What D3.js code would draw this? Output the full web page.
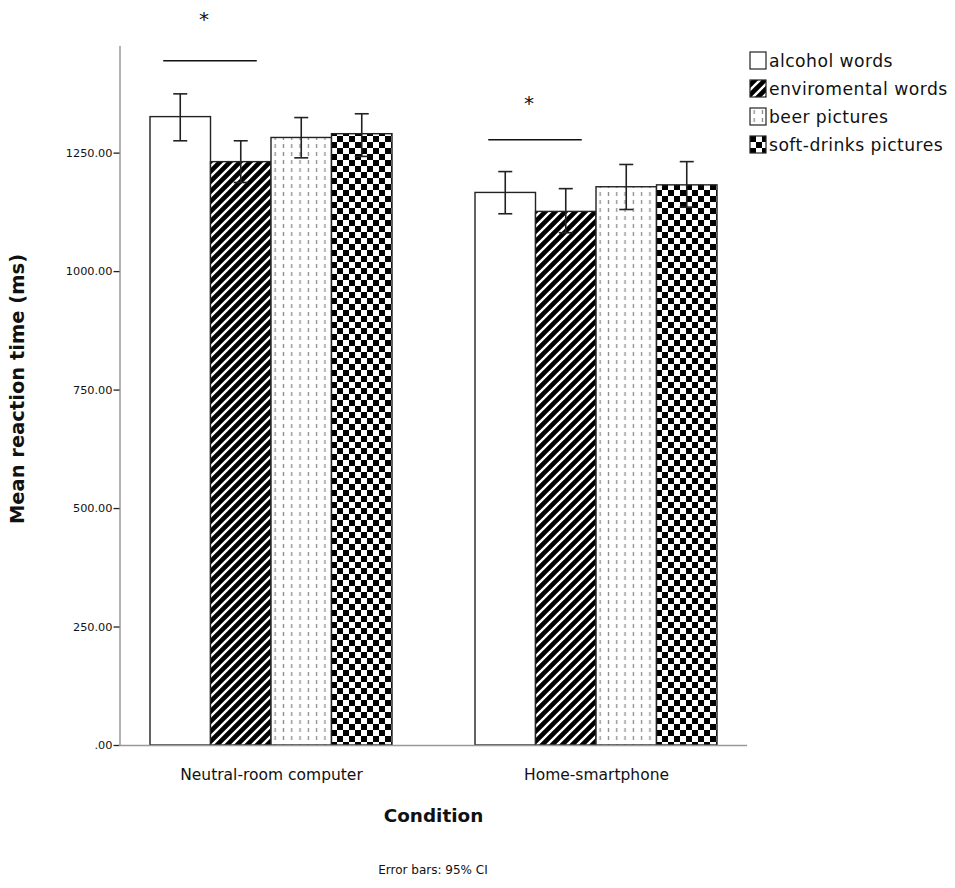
<!DOCTYPE html>
<html>
<head>
<meta charset="utf-8">
<script src="https://cdn.jsdelivr.net/npm/d3@7"></script>
<style>
  body { margin: 0; background: #fff; }
  text { font-family: "DejaVu Sans", sans-serif; fill: #111; }
</style>
</head>
<body>
<div id="chart"></div>
<script>
// data
const conditions = ["Neutral-room computer", "Home-smartphone"];
const series = ["alcohol words", "enviromental words", "beer pictures", "soft-drinks pictures"];
const means = [
  [1326, 1231, 1282, 1290],
  [1166, 1126, 1178, 1182]
];
const ciLow = [
  [1275, 1187, 1239, 1242],
  [1121, 1081, 1130, 1135]
];
const ciHigh = [
  [1374, 1275, 1324, 1332],
  [1210, 1174, 1225, 1231]
];
const yTicks = [0, 250, 500, 750, 1000, 1250];
// significance bars between alcohol words and enviromental words
const sigLineValue = [1444, 1277];
const sigStarValue = [1538, 1360];

// set the dimensions and margins of the graph
const W = 955, H = 888;
const margin = {top: 46, right: 208, bottom: 143, left: 119.5},
    width = W - margin.left - margin.right,
    height = H - margin.top - margin.bottom;

const svg = d3.select("#chart")
  .append("svg")
    .attr("width", W)
    .attr("height", H);

// fill patterns
const defs = svg.append("defs");

const diag = defs.append("pattern")
    .attr("id", "diag")
    .attr("patternUnits", "userSpaceOnUse")
    .attr("width", 10).attr("height", 10);
diag.append("rect").attr("width", 10).attr("height", 10).attr("fill", "#000");
diag.append("path")
    .attr("d", "M-2,12 L12,-2 M-7,7 L7,-7 M3,17 L17,3")
    .attr("stroke", "#fff").attr("stroke-width", 2.4);

const dots = defs.append("pattern")
    .attr("id", "dots")
    .attr("patternUnits", "userSpaceOnUse")
    .attr("width", 8.3).attr("height", 8);
dots.append("rect").attr("width", 8.3).attr("height", 8).attr("fill", "#fff");
dots.append("rect").attr("x", 3.5).attr("y", 2).attr("width", 1.3).attr("height", 4).attr("fill", "#8a8a8a");

const check = defs.append("pattern")
    .attr("id", "check")
    .attr("patternUnits", "userSpaceOnUse")
    .attr("width", 12).attr("height", 12);
check.append("rect").attr("width", 12).attr("height", 12).attr("fill", "#fff");
check.append("rect").attr("width", 6).attr("height", 6).attr("fill", "#000");
check.append("rect").attr("x", 6).attr("y", 6).attr("width", 6).attr("height", 6).attr("fill", "#000");

const fills = ["#fff", "url(#diag)", "url(#dots)", "url(#check)"];

const g = svg.append("g")
    .attr("transform", `translate(${margin.left},${margin.top})`);

// scales
const y = d3.scaleLinear().domain([0, 1475]).range([height, 0]);
const x = d3.scalePoint().domain(conditions).range([151.5, 476.5]);
const xs = d3.scaleBand().domain(series).range([-121, 121]);

// bars
const groups = g.selectAll(".grp")
  .data(conditions)
  .enter().append("g")
    .attr("class", "grp")
    .attr("transform", d => `translate(${x(d)},0)`);

groups.each(function(c, ci) {
  const grp = d3.select(this);
  const rows = series.map((s, si) => ({s, si, m: means[ci][si], lo: ciLow[ci][si], hi: ciHigh[ci][si]}));

  grp.selectAll("rect")
    .data(rows)
    .enter().append("rect")
      .attr("x", d => xs(d.s))
      .attr("y", d => y(d.m))
      .attr("width", xs.bandwidth())
      .attr("height", d => y(0) - y(d.m))
      .attr("fill", d => fills[d.si])
      .attr("stroke", "#222")
      .attr("stroke-width", 1.4);

  // error bars
  const eb = grp.selectAll(".eb")
    .data(rows)
    .enter().append("g")
      .attr("class", "eb")
      .attr("transform", d => `translate(${xs(d.s) + xs.bandwidth() / 2},0)`)
      .attr("stroke", "#222")
      .attr("stroke-width", 1.6);
  eb.append("line").attr("y1", d => y(d.lo)).attr("y2", d => y(d.hi));
  eb.append("line").attr("x1", -7).attr("x2", 7).attr("y1", d => y(d.lo)).attr("y2", d => y(d.lo));
  eb.append("line").attr("x1", -7).attr("x2", 7).attr("y1", d => y(d.hi)).attr("y2", d => y(d.hi));

  // significance line + star
  const xa = xs(series[0]) + xs.bandwidth() / 2 - 17;
  const xb = xs(series[1]) + xs.bandwidth() / 2 + 16;
  grp.append("line")
    .attr("x1", xa).attr("x2", xb)
    .attr("y1", y(sigLineValue[ci])).attr("y2", y(sigLineValue[ci]))
    .attr("stroke", "#111").attr("stroke-width", 1.5);
  grp.append("text")
    .attr("x", (xa + xb) / 2 - 6)
    .attr("y", y(sigStarValue[ci]) + 10)
    .attr("text-anchor", "middle")
    .style("font-size", "20px")
    .text("*");
});

// axes
const yAxis = g.append("g")
    .call(d3.axisLeft(y).tickValues(yTicks).tickSize(6).tickSizeOuter(0)
      .tickFormat(d => d === 0 ? ".00" : d3.format(".2f")(d)));
yAxis.select(".domain").attr("stroke", "#999").attr("stroke-width", 1.5)
    .attr("d", `M0.5,${height}V0`);
yAxis.selectAll(".tick line").attr("stroke", "#222").attr("stroke-width", 1.3);
yAxis.selectAll(".tick text").style("font-size", "11.3px").attr("x", -7).attr("fill", "#111");

const xAxis = g.append("g")
    .attr("transform", `translate(0,${height})`)
    .call(d3.axisBottom(x).tickSize(0).tickSizeOuter(0));
xAxis.select(".domain").attr("stroke", "#999").attr("stroke-width", 1.5)
    .attr("d", `M0,0.5H${width}`);
xAxis.selectAll(".tick text").style("font-size", "15.5px")
    .attr("y", 24).attr("dy", "0.71em").attr("fill", "#111");

// axis titles
svg.append("text")
    .attr("transform", `translate(24,${margin.top + 343}) rotate(-90)`)
    .attr("text-anchor", "middle")
    .style("font-size", "19.5px").style("font-weight", "bold")
    .text("Mean reaction time (ms)");

svg.append("text")
    .attr("x", margin.left + 314)
    .attr("y", 822)
    .attr("text-anchor", "middle")
    .style("font-size", "18.4px").style("font-weight", "bold")
    .text("Condition");

svg.append("text")
    .attr("x", 433)
    .attr("y", 874)
    .attr("text-anchor", "middle")
    .style("font-size", "12px")
    .text("Error bars: 95% CI");

// legend
const legend = svg.append("g").attr("transform", "translate(750,52)");
const li = legend.selectAll(".li")
  .data(series)
  .enter().append("g")
    .attr("transform", (d, i) => `translate(0,${i * 28})`);
li.append("rect")
    .attr("width", 16).attr("height", 17)
    .attr("fill", (d, i) => fills[i])
    .attr("stroke", "#222").attr("stroke-width", 1.2);
li.append("text")
    .attr("x", 19).attr("y", 8.5).attr("dy", "0.36em")
    .style("font-size", "17.2px").style("letter-spacing", "0.45px")
    .text(d => d);
</script>
</body>
</html>
